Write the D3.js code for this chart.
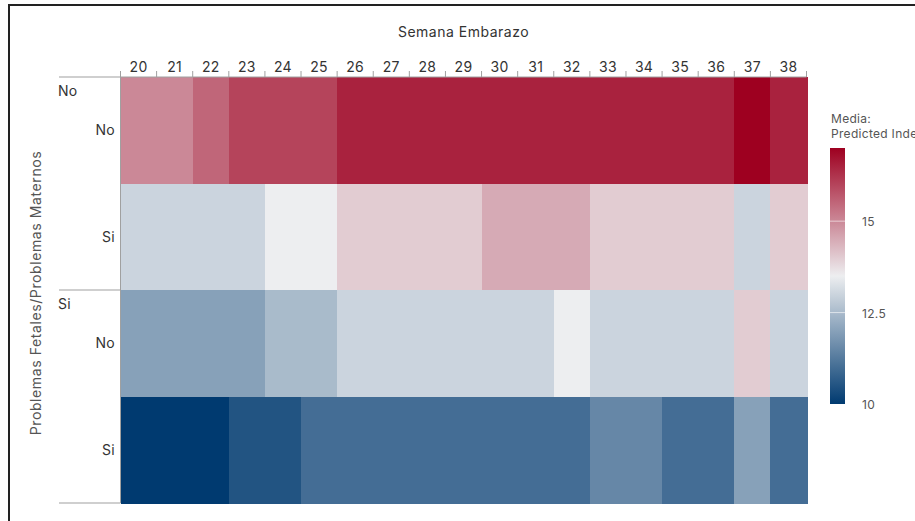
<!DOCTYPE html>
<html>
<head>
<meta charset="utf-8">
<script src="https://cdn.jsdelivr.net/npm/d3@7"></script>
<style>
  html, body { margin: 0; padding: 0; background: #fff; overflow: hidden; }
  svg { display: block; font-family: Inter, Roboto, sans-serif; }
</style>
</head>
<body>
<svg id="chart" width="915" height="521"></svg>
<script>
// ---- data ----
const weeks = ["20","21","22","23","24","25","26","27","28","29","30","31","32","33","34","35","36","37","38"];
const outerGroups = ["No", "Si"];
const innerGroups = ["No", "Si"];
const rowKeys = ["No|No", "No|Si", "Si|No", "Si|Si"];
const valuesNoNo = [15, 15, 15.5, 16, 16, 16, 16.5, 16.5, 16.5, 16.5, 16.5, 16.5, 16.5, 16.5, 16.5, 16.5, 16.5, 17, 16.5];
const valuesNoSi = [13, 13, 13, 13, 13.5, 13.5, 14, 14, 14, 14, 14.5, 14.5, 14.5, 14, 14, 14, 14, 13, 14];
const valuesSiNo = [12, 12, 12, 12, 12.5, 12.5, 13, 13, 13, 13, 13, 13, 13.5, 13, 13, 13, 13, 14, 13];
const valuesSiSi = [10, 10, 10, 10.5, 10.5, 11, 11, 11, 11, 11, 11, 11, 11, 11.5, 11.5, 11, 11, 12, 11];
const legendTicks = [10, 12.5, 15];
const xTitle = "Semana Embarazo";
const yTitle = "Problemas Fetales/Problemas Maternos";
const legendTitle = ["Media:", "Predicted Index"];

const rowValues = [valuesNoNo, valuesNoSi, valuesSiNo, valuesSiSi];
const cells = [];
rowKeys.forEach((rk, i) => {
  weeks.forEach((w, j) => cells.push({ row: rk, week: w, value: rowValues[i][j] }));
});

// ---- layout ----
const svg = d3.select("#chart");
const pLeft = 120.5, pRight = 806.5, pTop = 77, pBottom = 503;
const axisColor = "#a0a0a0";
const textColor = "#333";
const FONT = "Inter, Roboto, sans-serif";

const x = d3.scaleBand().domain(weeks).range([pLeft, pRight]).padding(0);
const y = d3.scaleBand().domain(rowKeys).range([pTop, pBottom]).padding(0);
const color = d3.scaleLinear()
  .domain([10, 13.5, 17])
  .range(["#003a70", "#edeef0", "#9e0020"])
  .interpolate(d3.interpolateRgb);

// frame
svg.append("rect").attr("x", 9).attr("y", 5).attr("width", 1000).attr("height", 1000)
  .attr("fill", "none").attr("stroke", "#222").attr("stroke-width", 2);

// cells
svg.append("g").attr("shape-rendering", "crispEdges")
  .selectAll("rect").data(cells).join("rect")
  .attr("x", d => x(d.week))
  .attr("y", d => y(d.row))
  .attr("width", x.bandwidth() + 1)
  .attr("height", y.bandwidth() + 1)
  .attr("fill", d => color(d.value));

// top axis labels
const xAxis = d3.axisTop(x).tickSize(0).tickPadding(0);
const gx = svg.append("g").attr("transform", `translate(0,${pTop - 5})`).call(xAxis);
gx.select(".domain").remove();
gx.selectAll("text").attr("font-size", 14).attr("fill", textColor)
  .attr("font-family", FONT).attr("dy", 0).attr("letter-spacing", 0.3);

// tick marks between columns
const boundaries = weeks.map(w => x(w)).concat([pRight]);
svg.append("g").selectAll("line").data(boundaries).join("line")
  .attr("x1", d => d).attr("x2", d => d)
  .attr("y1", pTop - 6).attr("y2", pTop)
  .attr("stroke", axisColor).attr("stroke-width", 1);
svg.append("line").attr("x1", pLeft).attr("x2", pRight).attr("y1", pTop).attr("y2", pTop)
  .attr("stroke", axisColor).attr("stroke-width", 1);

// x title
svg.append("text").attr("x", (pLeft + pRight) / 2).attr("y", 37)
  .attr("text-anchor", "middle").attr("font-size", 14).attr("fill", textColor)
  .attr("letter-spacing", 0.5)
  .text(xTitle);

// left vertical axis line
svg.append("line").attr("x1", pLeft).attr("x2", pLeft).attr("y1", pTop).attr("y2", pBottom)
  .attr("stroke", axisColor).attr("stroke-width", 1);

// outer group separators
const outerTops = outerGroups.map(o => y(o + "|" + innerGroups[0]));
svg.append("g").selectAll("line").data(outerTops.concat([pBottom])).join("line")
  .attr("x1", 59).attr("x2", pLeft).attr("y1", d => d).attr("y2", d => d)
  .attr("stroke", axisColor).attr("stroke-width", 1.2);

// outer labels
svg.append("g").selectAll("text").data(outerGroups).join("text")
  .attr("x", 58).attr("y", o => y(o + "|" + innerGroups[0]) + 19)
  .attr("font-size", 14).attr("fill", textColor).attr("letter-spacing", 0.3).text(o => o);

// inner labels
svg.append("g").selectAll("text").data(rowKeys).join("text")
  .attr("x", 115).attr("y", rk => y(rk) + y.bandwidth() / 2 + 5)
  .attr("text-anchor", "end").attr("font-size", 14).attr("fill", textColor)
  .attr("letter-spacing", 0.3)
  .text(rk => rk.split("|")[1]);

// y title
svg.append("text").attr("transform", `translate(41,${(pTop + pBottom) / 2 + 3}) rotate(-90)`)
  .attr("text-anchor", "middle").attr("font-size", 14).attr("fill", "#555")
  .attr("letter-spacing", 0.6)
  .text(yTitle);

// legend
const defs = svg.append("defs");
const grad = defs.append("linearGradient").attr("id", "lg")
  .attr("x1", 0).attr("y1", 1).attr("x2", 0).attr("y2", 0);
const ly = d3.scaleLinear().domain([10, 17]).range([404, 148]);
d3.range(0, 1.0001, 0.05).forEach(t => {
  const v = 10 + t * 7;
  grad.append("stop").attr("offset", t).attr("stop-color", color(v));
});
defs.append("clipPath").attr("id", "clipLegend").append("rect")
  .attr("x", 800).attr("y", 0).attr("width", 115).attr("height", 521);

const lg = svg.append("g").attr("clip-path", "url(#clipLegend)");
lg.selectAll("text.title").data(legendTitle).join("text").attr("class", "title")
  .attr("x", 831).attr("y", (d, i) => 123 + i * 14.5)
  .attr("font-size", 12).attr("fill", "#555").attr("letter-spacing", 0.3).text(d => d);

lg.append("rect").attr("x", 830).attr("y", ly(17)).attr("width", 15).attr("height", ly(10) - ly(17))
  .attr("fill", "url(#lg)");
lg.selectAll("line.tk").data(legendTicks.filter(v => v > 10)).join("line").attr("class", "tk")
  .attr("x1", 830).attr("x2", 845).attr("y1", d => ly(d)).attr("y2", d => ly(d))
  .attr("stroke", "#fff").attr("stroke-opacity", 0.6).attr("stroke-width", 1);
lg.selectAll("text.tl").data(legendTicks).join("text").attr("class", "tl")
  .attr("x", 862).attr("y", d => ly(d) + 5)
  .attr("font-size", 12).attr("fill", "#555").attr("letter-spacing", 0.3).text(d => d);
</script>
</body>
</html>
